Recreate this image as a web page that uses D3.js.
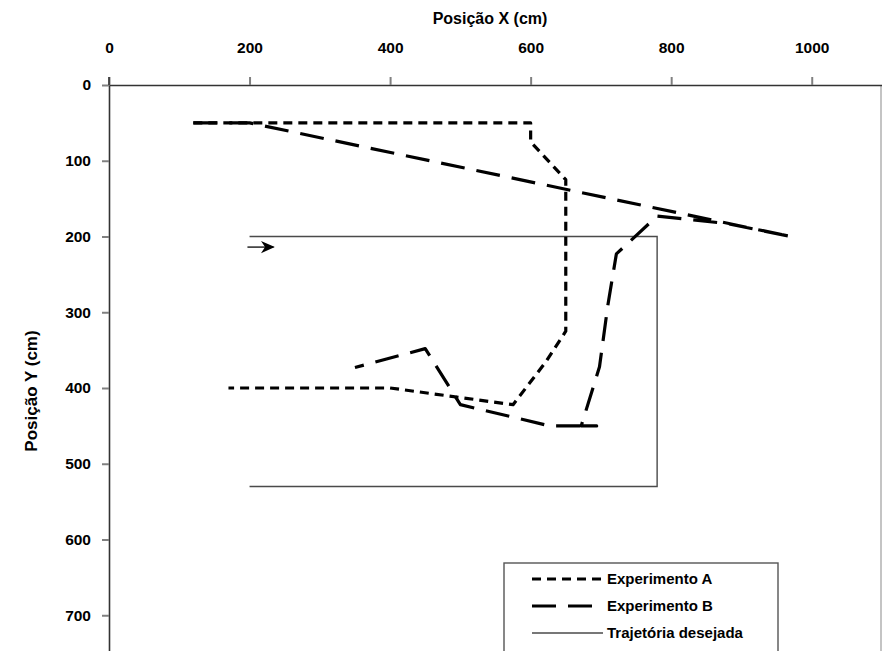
<!DOCTYPE html>
<html>
<head>
<meta charset="utf-8">
<script src="https://cdn.jsdelivr.net/npm/d3@7/dist/d3.min.js"></script>
<style>
  html, body { margin: 0; padding: 0; background: #fff; }
  svg { display: block; }
  text { font-family: "Liberation Sans", Arial, sans-serif; font-weight: bold; fill: #000; }
</style>
</head>
<body>
<svg id="chart" width="882" height="651"></svg>
<script>
// ---- data (cm) ----
const xTicks = [0, 200, 400, 600, 800, 1000];
const yTicks = [0, 100, 200, 300, 400, 500, 600, 700];
const xTitle = "Posição X (cm)";
const yTitle = "Posição Y (cm)";
const seriesNames = ["Experimento A", "Experimento B", "Trajetória desejada"];

const experimentoA = [
  [120, 50], [600, 50], [600, 75], [650, 125], [650, 325],
  [622, 365], [575, 422], [400, 400], [170, 400]
];
const experimentoB = [
  [120, 50], [200, 50], [970, 200], [880, 183], [780, 173],
  [722, 223], [710, 290], [698, 372], [672, 450], [694, 450],
  [627, 450], [500, 422], [450, 348], [350, 373]
];
const trajetoria = [
  [200, 200], [780, 200], [780, 530], [200, 530]
];
const arrowPts = [[197, 214], [234, 214]];

// ---- layout ----
const svg = d3.select("#chart");
const x = d3.scaleLinear().domain([0, 1100]).range([109, 882]);
const y = d3.scaleLinear().domain([0, 800]).range([85, 691]);

// plot border (right side light)
svg.append("line")
  .attr("x1", x(1100) - 1).attr("x2", x(1100) - 1)
  .attr("y1", y(0)).attr("y2", y(800))
  .attr("stroke", "#b0b0b0").attr("stroke-width", 1.5);

// x axis (top)
const xAxis = d3.axisTop(x).tickValues(xTicks).tickFormat(d3.format("d"))
  .tickSize(8).tickSizeOuter(0).tickPadding(24);
const gx = svg.append("g").attr("transform", `translate(0,${y(0)})`).call(xAxis);
gx.select(".domain").attr("stroke", "#333").attr("stroke-width", 1.6);
gx.selectAll(".tick line").attr("stroke", "#808080").attr("stroke-width", 2);
gx.selectAll(".tick text").style("font-size", "15.5px").attr("fill", "#000");

// y axis (left)
const yAxis = d3.axisLeft(y).tickValues(yTicks).tickFormat(d3.format("d"))
  .tickSize(7).tickSizeOuter(0).tickPadding(11);
const gy = svg.append("g").attr("transform", `translate(${x(0)},0)`).call(yAxis);
gy.select(".domain").attr("stroke", "#333").attr("stroke-width", 1.6);
gy.selectAll(".tick line").attr("stroke", "#808080").attr("stroke-width", 2);
gy.selectAll(".tick text").style("font-size", "15.5px").attr("fill", "#000");
// the x=0 tick extends above the axis line
svg.append("line")
  .attr("x1", x(0)).attr("x2", x(0)).attr("y1", y(0) - 8).attr("y2", y(0))
  .attr("stroke", "#333").attr("stroke-width", 1.6);

// titles
svg.append("text").attr("x", 490).attr("y", 24).attr("text-anchor", "middle")
  .style("font-size", "16px").text(xTitle);
svg.append("text").attr("transform", "translate(37,391) rotate(-90)")
  .attr("text-anchor", "middle").style("font-size", "17px").text(yTitle);

const line = d3.line().x(d => x(d[0])).y(d => y(d[1]));

// desired trajectory
svg.append("path").datum(trajetoria).attr("d", line)
  .attr("fill", "none").attr("stroke", "#4a4a4a").attr("stroke-width", 1.4);

// arrow
svg.append("defs").append("marker")
  .attr("id", "arrowhead").attr("viewBox", "0 0 10 10")
  .attr("refX", 9).attr("refY", 5)
  .attr("markerWidth", 14).attr("markerHeight", 14).attr("markerUnits", "userSpaceOnUse")
  .attr("orient", "auto")
  .append("path").attr("d", "M0,0.5 L10,5 L0,9.5 L3,5 Z").attr("fill", "#000");
svg.append("path").datum(arrowPts).attr("d", line)
  .attr("stroke", "#333").attr("stroke-width", 1.6).attr("fill", "none")
  .attr("marker-end", "url(#arrowhead)");

// experiments
svg.append("path").datum(experimentoB).attr("d", line)
  .attr("fill", "none").attr("stroke", "#000").attr("stroke-width", 3.2)
  .attr("stroke-dasharray", "24,12").attr("stroke-linejoin", "round");
svg.append("path").datum(experimentoA).attr("d", line)
  .attr("fill", "none").attr("stroke", "#000").attr("stroke-width", 3.2)
  .attr("stroke-dasharray", "9,6").attr("stroke-linejoin", "round");

// legend
const lg = svg.append("g");
lg.append("rect").attr("x", 504).attr("y", 563).attr("width", 274).attr("height", 120)
  .attr("fill", "#fff").attr("stroke", "#555").attr("stroke-width", 1.4);
const legendStyles = [
  { dash: "9,6", w: 3.2, c: "#000" },
  { dash: "24,12", w: 3.2, c: "#000" },
  { dash: null, w: 1.4, c: "#4a4a4a" }
];
const rowY = [579, 606, 633];
seriesNames.forEach((name, i) => {
  const s = legendStyles[i];
  const l = lg.append("line").attr("x1", 532).attr("x2", 603)
    .attr("y1", rowY[i]).attr("y2", rowY[i])
    .attr("stroke", s.c).attr("stroke-width", s.w);
  if (s.dash) l.attr("stroke-dasharray", s.dash);
  lg.append("text").attr("x", 607).attr("y", rowY[i]).attr("dy", "0.35em")
    .style("font-size", "15px").text(name);
});
</script>
</body>
</html>
